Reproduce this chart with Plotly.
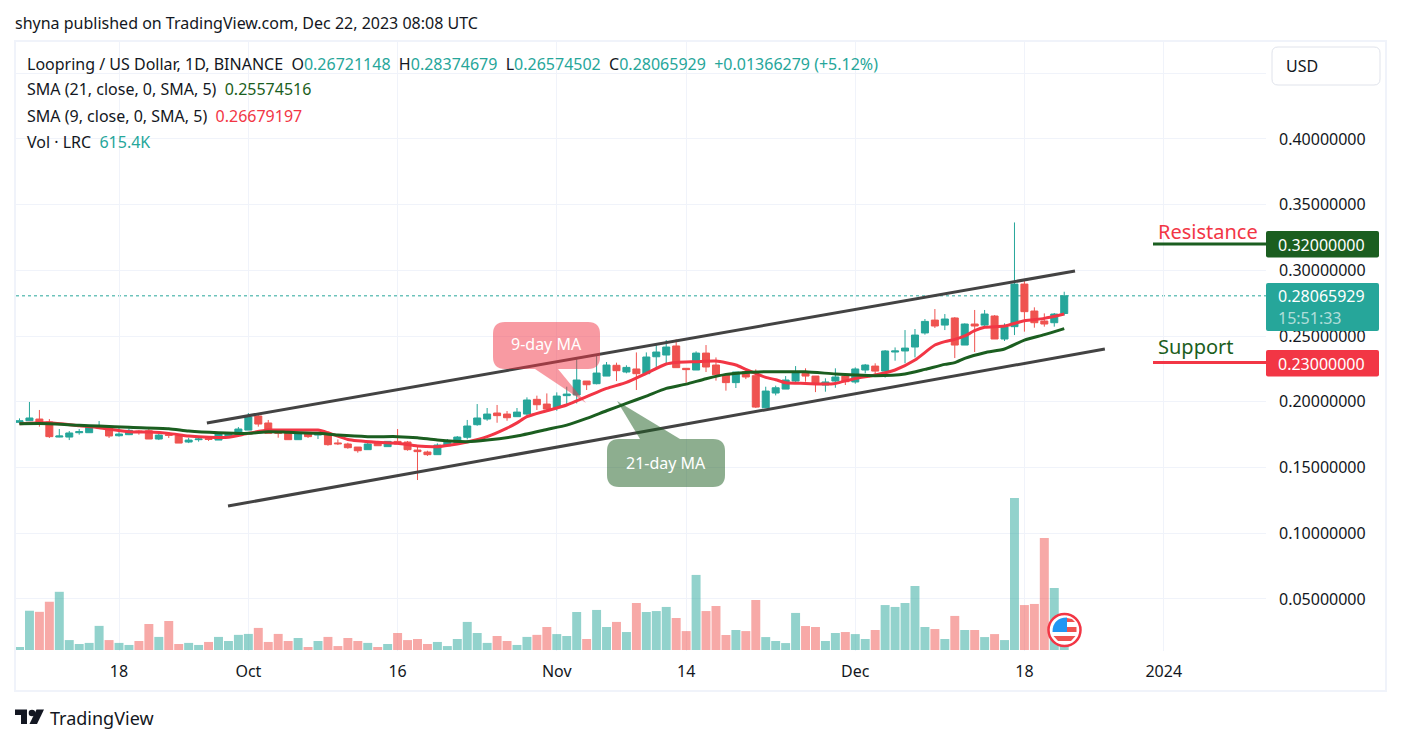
import pandas as pd
import plotly.graph_objects as go

UP = "#26a69a"
DOWN = "#ef5350"
RED = "#f23645"
GREEN = "#1b5e20"
INK = "#131722"
GRID = "#f0f3fa"
FONT = "Noto Sans"

days = pd.date_range("2023-09-08", periods=106)

opens = [.1844,.1856,.1869,.1846,.1732,.1732,.1765,.1765,.1811,.1808,.1742,.1750,.1778,.1780,.1717,.1750,.1742,.1694,.1712,.1719,.1709,.1740,.1753,.1785,.1892,.1839,
 .1780,.1773,.1712,.1755,.1747,.1755,.1687,.1679,.1656,.1636,.1689,.1659,.1699,.1694,.1633,.1618,.1598,.1666,.1692,.1730,.1826,.1869,.1915,.1907,.1887,
 .1907,.2019,.1983,.1955,.2047,.2052,.2158,.2138,.2196,.2278,.2227,.2250,.2214,.2343,.2356,.2425,.2255,.2242,.2371,.2280,.2206,.2146,.2229,.2199,.1955,.2067,
 .2097,.2158,.2217,.2196,.2128,.2158,.2196,.2151,.2242,.2272,.2234,.2379,.2387,.2417,.2524,.2622,.2584,.2638,.2432,.2592,.2584,.2653,.2478,.2572,.2896,.2691,.2615,.2602,.26721]
highs = [.1874,.1999,.1938,.1869,.1793,.1778,.1793,.1816,.1854,.1808,.1803,.1798,.1785,.1803,.1760,.1770,.1742,.1727,.1735,.1735,.1760,.1760,.1808,.1915,.1912,.1862,
 .1780,.1773,.1773,.1765,.1765,.1773,.1714,.1689,.1656,.1694,.1689,.1699,.1793,.1702,.1666,.1628,.1684,.1717,.1740,.1862,.1983,.1953,.1976,.1930,.1953,
 .2034,.2047,.2064,.2072,.2115,.2338,.2158,.2348,.2303,.2298,.2278,.2376,.2376,.2432,.2470,.2475,.2255,.2384,.2432,.2338,.2206,.2227,.2242,.2247,.2115,.2123,
 .2196,.2272,.2255,.2196,.2179,.2255,.2212,.2262,.2288,.2293,.2394,.2414,.2546,.2554,.2630,.2706,.2668,.2645,.2597,.2699,.2699,.2660,.2597,.3365,.2919,.2719,.2673,.2676,.28375]
lows = [.1829,.1856,.1811,.1725,.1730,.1709,.1750,.1765,.1803,.1725,.1735,.1747,.1750,.1717,.1709,.1725,.1686,.1686,.1697,.1702,.1709,.1725,.1753,.1785,.1811,.1760,
 .1727,.1712,.1712,.1725,.1717,.1666,.1671,.1643,.1613,.1636,.1666,.1659,.1679,.1628,.1405,.1588,.1598,.1666,.1692,.1714,.1818,.1856,.1841,.1856,.1887,
 .1894,.1938,.1932,.1932,.1983,.1988,.2090,.2133,.2196,.2158,.2217,.2090,.2209,.2247,.2288,.2260,.2146,.2242,.2227,.2161,.2085,.2105,.2173,.1953,.1953,.2049,
 .2097,.2151,.2153,.2074,.2077,.2107,.2128,.2138,.2217,.2204,.2184,.2313,.2293,.2338,.2511,.2562,.2546,.2333,.2432,.2379,.2562,.2478,.2463,.2508,.2534,.2564,.2572,.2572,.26575]
closes = [.1856,.1877,.1841,.1735,.1740,.1763,.1773,.1816,.1818,.1740,.1755,.1783,.1773,.1717,.1747,.1745,.1686,.1709,.1717,.1714,.1755,.1755,.1793,.1884,.1831,.1760,
 .1760,.1712,.1755,.1735,.1755,.1674,.1681,.1651,.1628,.1679,.1666,.1699,.1679,.1636,.1621,.1598,.1671,.1702,.1732,.1816,.1877,.1907,.1895,.1879,.1922,
 .2014,.1978,.1945,.2044,.2059,.2166,.2130,.2219,.2280,.2237,.2262,.2214,.2341,.2379,.2417,.2260,.2245,.2371,.2265,.2206,.2146,.2227,.2189,.1960,.2082,.2107,
 .2166,.2219,.2196,.2140,.2151,.2189,.2153,.2250,.2280,.2234,.2387,.2387,.2409,.2508,.2612,.2577,.2630,.2432,.2592,.2577,.2668,.2478,.2569,.2896,.2686,.2602,.2592,.2668,.28066]
volumes = [.19,2.49,2.42,3.06,3.69,.63,.38,.45,1.53,.63,.45,.32,.57,1.65,.83,1.84,.38,.45,.32,.51,.83,.57,.96,1.02,1.40,.51,1.02,.57,.76,.19,.57,.83,.25,.76,.57,.45,.19,.38,1.08,.63,.70,.38,.51,.25,.70,1.78,1.08,.45,.89,.57,.32,.83,.96,
 1.46,1.01,.89,2.41,.70,2.54,1.46,1.78,1.14,2.98,2.41,2.47,2.73,2.03,1.20,4.76,2.47,2.79,.95,1.27,1.20,3.17,.82,.57,.44,2.35,1.52,1.46,.57,1.08,1.14,1.01,.70,1.27,2.85,2.73,2.98,4.06,1.46,1.33,.70,2.16,1.27,1.27,.82,1.01,.63,9.64,2.85,2.92,7.10,3.93,.6154]

sma9_day = [1,4,7,9,12,14,16,18,20,22,24,26,29,31,32,34,37,39,41,43,45,46,48,50,51,52,54,56,58,60,62,64,66,67,69,71,73,74,76,77,78,80,82,83,85,87,89,91,93,94,95,96,97,98,100,102,104,106]
sma9_val = [.1834,.1841,.1818,.1803,.1773,.1770,.1760,.1740,.1730,.1730,.1760,.1785,.1785,.1785,.1765,.1714,.1692,.1684,.1664,.1659,.1679,.1694,.1735,.1800,.1840,.1887,.1932,.1976,.2039,.2102,.2148,.2217,.2288,.2300,.2305,.2310,.2280,.2247,.2186,.2168,.2145,.2140,.2135,.2140,.2178,.2204,.2242,.2318,.2432,.2458,.2475,.2501,.2541,.2567,.2577,.2617,.2635,.26679]
sma21_day = [1,4,7,9,12,16,18,21,24,26,28,31,33,36,39,41,43,46,48,51,54,56,58,60,62,64,66,68,70,72,74,76,78,80,83,85,87,90,92,94,95,96,98,100,102,104,106]
sma21_val = [.1834,.1834,.1821,.1816,.1806,.1796,.1778,.1765,.1760,.1773,.1768,.1760,.1747,.1735,.1735,.1727,.1709,.1697,.1709,.1740,.1790,.1823,.1874,.1932,.1988,.2044,.2102,.2135,.2176,.2209,.2224,.2229,.2229,.2229,.2212,.2204,.2199,.2212,.2247,.2285,.2298,.2331,.2374,.2402,.2470,.2511,.25575]

channel_top_x = ["2023-09-26 20:00", "2023-12-23 02:00"]
channel_top_y = [.1839, .2995]
channel_low_x = ["2023-09-28 23:00", "2023-12-26 02:00"]
channel_low_y = [.1207, .2402]

date_ticks = ["2023-09-18", "2023-10-01", "2023-10-16", "2023-11-01", "2023-11-14", "2023-12-01", "2023-12-18", "2024-01-01"]
date_labels = ["18", "Oct", "16", "Nov", "14", "Dec", "18", "2024"]
price_ticks = [.05, .10, .15, .20, .25, .30, .35, .40, .45]
price_labels = ["0.05000000", "0.10000000", "0.15000000", "0.20000000", "0.25000000", "0.30000000", "0.35000000", "0.40000000", ""]
last_price = 0.28065929
resistance = 0.32
support = 0.23

L, R, T, B = 16, 1266, 42, 651
def X(px): return (px - L) / (R - L)
def Y(py): return (B - py) / (B - T)

def rrect(x0, y0, x1, y1, r):
    return (f"M{X(x0+r)},{Y(y0)} L{X(x1-r)},{Y(y0)} Q{X(x1)},{Y(y0)} {X(x1)},{Y(y0+r)} "
            f"L{X(x1)},{Y(y1-r)} Q{X(x1)},{Y(y1)} {X(x1-r)},{Y(y1)} L{X(x0+r)},{Y(y1)} "
            f"Q{X(x0)},{Y(y1)} {X(x0)},{Y(y1-r)} L{X(x0)},{Y(y0+r)} Q{X(x0)},{Y(y0)} {X(x0+r)},{Y(y0)} Z")

def poly(pts):
    return "M" + " L".join(f"{X(a)},{Y(b)}" for a, b in pts) + " Z"

def pshape(path, fill, line=None, width=0):
    return dict(type="path", xref="paper", yref="paper", path=path, fillcolor=fill,
                line=dict(color=line or "rgba(0,0,0,0)", width=width), layer="above")

def note(px, py, text, size=16, color=INK, anchor="left", weight=None):
    font = dict(family=FONT, size=size, color=color)
    if weight:
        font["weight"] = weight
    return dict(xref="paper", yref="paper", x=X(px), y=Y(py), text=text, showarrow=False,
                xanchor=anchor, yanchor="middle", font=font, borderpad=0, borderwidth=0)

def tint(text, color):
    return f'<span style="color:{color}">{text}</span>'

fig = go.Figure()
fig.add_trace(go.Bar(x=days, y=volumes, yaxis="y",
                     marker=dict(color=[("rgba(38,166,154,0.5)" if c >= o else "rgba(239,83,80,0.5)") for o, c in zip(opens, closes)], line_width=0),
                     showlegend=False, hoverinfo="skip"))
fig.add_trace(go.Candlestick(x=days, open=opens, high=highs, low=lows, close=closes, yaxis="y2",
                             increasing=dict(line=dict(color=UP, width=1), fillcolor=UP),
                             decreasing=dict(line=dict(color=DOWN, width=1), fillcolor=DOWN),
                             whiskerwidth=0, showlegend=False))
fig.add_trace(go.Scatter(x=[days[d-1] for d in sma9_day], y=sma9_val, yaxis="y2", mode="lines",
                         line=dict(color=RED, width=3, shape="spline", smoothing=0.6), showlegend=False))
fig.add_trace(go.Scatter(x=[days[d-1] for d in sma21_day], y=sma21_val, yaxis="y2", mode="lines",
                         line=dict(color=GREEN, width=3, shape="spline", smoothing=0.6), showlegend=False))
for xs, ys in ((channel_top_x, channel_top_y), (channel_low_x, channel_low_y)):
    fig.add_trace(go.Scatter(x=xs, y=ys, yaxis="y2", mode="lines",
                             line=dict(color="#434343", width=3), showlegend=False))

shapes = [
    # chart frame
    dict(type="rect", xref="paper", yref="paper", x0=X(15), x1=X(1386), y0=Y(691), y1=Y(41),
         line=dict(color=GRID, width=2), fillcolor="rgba(0,0,0,0)", layer="below"),
    # last price dotted line
    dict(type="line", xref="paper", yref="y2", x0=0, x1=1, y0=last_price, y1=last_price,
         line=dict(color=UP, width=1, dash="dot"), layer="below"),
    # resistance & support levels
    dict(type="line", xref="paper", yref="y2", x0=X(1153), x1=1, y0=resistance, y1=resistance,
         line=dict(color=GREEN, width=3)),
    dict(type="line", xref="paper", yref="y2", x0=X(1153), x1=1, y0=support, y1=support,
         line=dict(color=RED, width=3)),
    # price tags
    pshape(rrect(1266, 231, 1379, 257.5, 2), GREEN),
    pshape(rrect(1266, 350, 1379, 376.5, 2), RED),
    pshape(rrect(1266, 283, 1379, 331, 2), UP),
    # USD button
    pshape(rrect(1272, 47, 1380, 85, 6), "#ffffff", "#e0e3eb", 1),
    # callouts
    pshape(rrect(493, 322, 600, 369, 12), "rgba(242,54,69,0.5)"),
    pshape(poly([(535, 369), (558, 369), (586, 403)]), "rgba(242,54,69,0.5)"),
    pshape(rrect(607, 439, 725, 487, 12), "rgba(27,94,32,0.5)"),
    pshape(poly([(640, 439), (680, 439), (617, 401)]), "rgba(27,94,32,0.5)"),
    # TradingView mark
    pshape(poly([(15, 709.5), (27, 709.5), (27, 724), (21, 724), (21, 715), (15, 715)]), INK),
    dict(type="circle", xref="paper", yref="paper", x0=X(28.7), x1=X(35.3), y0=Y(716.3), y1=Y(709.7),
         fillcolor=INK, line_width=0, layer="above"),
    pshape(poly([(44, 709.5), (37, 724), (29.5, 724), (36.5, 709.5)]), INK),
    # flag badge
    dict(type="circle", xref="paper", yref="paper", x0=X(1048.5), x1=X(1080.5), y0=Y(646), y1=Y(614),
         fillcolor="#ffffff", line=dict(color=RED, width=2.5), layer="above"),
    pshape("M{},{} L{},{} L{},{} Q{},{} {},{} Z".format(X(1067), Y(617.5), X(1067), Y(632), X(1052.5), Y(632),
                                                        X(1052.5), Y(618), X(1067), Y(617.5)), "#2196f3"),
    pshape(poly([(1067, 627), (1076.5, 627), (1076.5, 632), (1067, 632)]), DOWN),
    pshape(poly([(1067, 618), (1072, 619), (1075, 622), (1067, 622)]), DOWN),
    pshape(poly([(1053.5, 636), (1075.5, 636), (1071, 641), (1058, 641)]), DOWN),
]

annotations = [
    note(15, 23, "shyna published on TradingView.com, Dec 22, 2023 08:08 UTC"),
    note(27, 64, "Loopring / US Dollar, 1D, BINANCE&#160;&#160;O" + tint("0.26721148", UP) + "&#160;&#160;H" + tint("0.28374679", UP)
         + "&#160;&#160;L" + tint("0.26574502", UP) + "&#160;&#160;C" + tint("0.28065929", UP) + "&#160;&#160;" + tint("+0.01366279 (+5.12%)", UP)),
    note(27, 89.5, "SMA (21, close, 0, SMA, 5)&#160;&#160;" + tint("0.25574516", GREEN)),
    note(27, 115.5, "SMA (9, close, 0, SMA, 5)&#160;&#160;" + tint("0.26679197", RED)),
    note(27, 142, "Vol · LRC&#160;&#160;" + tint("615.4K", UP)),
    note(1286, 66, "USD"),
    note(546.5, 344, "9-day MA", color="#ffffff"),
    note(666, 463, "21-day MA", color="#ffffff", anchor="center"),
    note(1158, 232, "Resistance", size=20, color=RED),
    note(1158, 347, "Support", size=20, color=GREEN),
    note(1278, 244.5, "0.32000000", color="#ffffff"),
    note(1278, 363.5, "0.23000000", color="#ffffff"),
    note(1278, 296, "0.28065929", color="#ffffff"),
    note(1278, 318, "15:51:33", color="rgba(255,255,255,0.65)"),
    note(50, 718, "TradingView", size=18),
]
annotations[6]["xanchor"] = "center"

fig.update_layout(
    width=1401, height=744, autosize=False,
    margin=dict(l=L, r=1401 - R, t=T, b=744 - B, pad=0),
    paper_bgcolor="#ffffff", plot_bgcolor="#ffffff",
    font=dict(family=FONT, size=16, color=INK),
    bargap=0.1, boxgap=0.2, boxgroupgap=0.12, showlegend=False,
    shapes=shapes, annotations=annotations,
    xaxis=dict(type="date", range=["2023-09-07 15:33", "2024-01-11 06:43"], rangeslider=dict(visible=False),
               tickmode="array", tickvals=date_ticks, ticktext=date_labels, ticks="", showline=False,
               showgrid=True, gridcolor=GRID, gridwidth=1, zeroline=False, ticklabelstandoff=9,
               tickfont=dict(family=FONT, size=16, color=INK)),
    yaxis=dict(range=[-0.063, 38.55], showgrid=False, showticklabels=False, zeroline=False, ticks=""),
    yaxis2=dict(overlaying="y", side="right", range=[0.0104, 0.4738], tickmode="array",
                tickvals=price_ticks, ticktext=price_labels, ticks="", showline=False,
                showgrid=True, gridcolor=GRID, gridwidth=1, zeroline=False, ticklabelstandoff=12,
                tickfont=dict(family=FONT, size=16, color=INK)),
)

fig.write_html("out.html", config=dict(displayModeBar=False),
               post_script="document.body.style.margin='0';document.body.style.overflow='hidden';")
